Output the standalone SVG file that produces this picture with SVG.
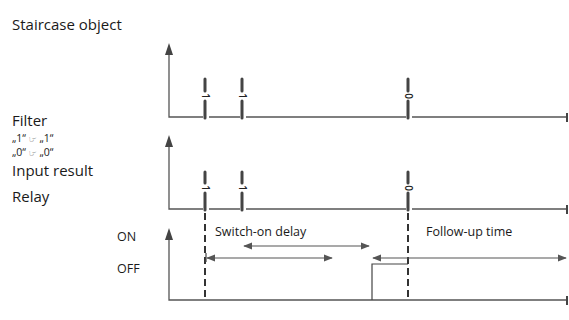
<svg xmlns="http://www.w3.org/2000/svg" width="569" height="320" viewBox="0 0 569 320">
<defs>
<style>
.lbl{font-family:"Open Sans","Liberation Sans",sans-serif;font-size:12.5px;fill:#1a1a1a}
.big{font-family:"Open Sans","Liberation Sans",sans-serif;font-size:15px;fill:#1a1a1a}
.sm{font-family:"Open Sans","DejaVu Sans",sans-serif;font-size:10.5px;fill:#1a1a1a}
.ic{font-family:"DejaVu Sans",sans-serif;font-size:9px;fill:#333}
.dig{font-family:"Open Sans","Liberation Sans",sans-serif;font-size:10px;font-weight:600;fill:#222}
.ax{stroke:#555;stroke-width:1.3;fill:none}
.bar{stroke:#444;stroke-width:3;stroke-linecap:round;fill:none}
.dash{stroke:#333;stroke-width:2;stroke-dasharray:7,4;fill:none}
.thin{stroke:#444;stroke-width:1.2;fill:none}
.dim{stroke:#555;stroke-width:1.2;fill:none;marker-start:url(#ah);marker-end:url(#ah)}
</style>
<marker id="ah" viewBox="0 0 10 10" refX="9" refY="5" markerWidth="9" markerHeight="9" markerUnits="userSpaceOnUse" orient="auto-start-reverse">
<path d="M0,1 L10,5 L0,9 Z" fill="#555"/>
</marker>
</defs>

<g id="labels">
<text class="big" x="12" y="126">Filter</text>
<text class="big" x="12" y="30">Staircase object</text>
<text class="sm" x="12" y="142">„1“ <tspan class="ic">☞</tspan> „1“</text>
<text class="sm" x="12" y="156">„0“ <tspan class="ic">☞</tspan> „0“</text>
<text class="big" x="12" y="176">Input result</text>
<text class="big" x="12" y="202">Relay</text>
<text class="lbl" x="117" y="241">ON</text>
<text class="lbl" x="117" y="273">OFF</text>
<text class="lbl" x="215" y="236">Switch-on delay</text>
<text class="lbl" x="426" y="236">Follow-up time</text>
</g>

<g id="chart-staircase">
<path class="ax" d="M169,52 V117 H203 M209,117 H240 M246,117 H406 M412,117 H567"/>
<path d="M169,43 L165,55 L173,55 Z" fill="#444"/>
<rect x="566" y="113" width="2" height="9" fill="#444"/>
<path class="bar" d="M205,79 V91 M205,101 V118 M242,79 V91 M242,101 V118 M408,79 V91 M408,101 V118"/>
<text class="dig" transform="translate(201.5,96) rotate(90)" text-anchor="middle">1</text>
<text class="dig" transform="translate(238.5,96) rotate(90)" text-anchor="middle">1</text>
<text class="dig" transform="translate(404.5,96) rotate(90)" text-anchor="middle">0</text>
</g>

<g id="chart-input">
<path class="ax" d="M169,145 V209 H203 M209,209 H240 M246,209 H406 M412,209 H567"/>
<path d="M169,135 L165,147 L173,147 Z" fill="#444"/>
<rect x="566" y="205" width="2" height="9" fill="#444"/>
<path class="bar" d="M205,172 V183 M205,193 V210 M242,172 V183 M242,193 V210 M408,172 V183 M408,193 V210"/>
<text class="dig" transform="translate(201.5,188) rotate(90)" text-anchor="middle">1</text>
<text class="dig" transform="translate(238.5,188) rotate(90)" text-anchor="middle">1</text>
<text class="dig" transform="translate(404.5,188) rotate(90)" text-anchor="middle">0</text>
</g>

<g id="chart-relay">
<path class="ax" d="M169,238 V300 H567"/>
<path d="M169,228 L165,240 L173,240 Z" fill="#444"/>
<rect x="566" y="296" width="2" height="9" fill="#444"/>
<path class="thin" d="M372,300 V264 H408"/>
</g>

<g id="connectors">
<path class="dash" d="M205,213 V300"/>
<path class="dash" d="M408,213 V300"/>
<path class="dim" d="M244,246 H369"/>
<path class="dim" d="M207,258 H332"/>
<path class="dim" d="M373,258 H566"/>
<path class="thin" d="M206,253 V262"/>
</g>
</svg>
